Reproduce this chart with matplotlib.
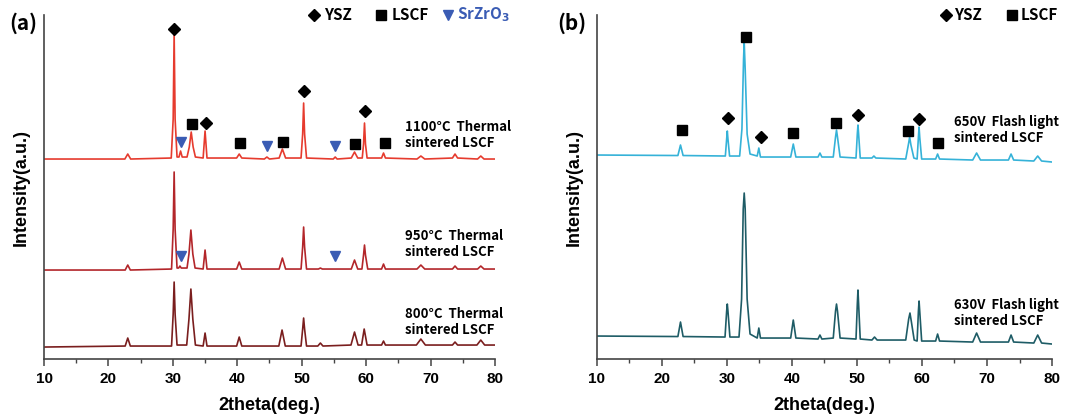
import matplotlib
matplotlib.use("Agg")
import matplotlib.pyplot as plt
from matplotlib.ticker import MultipleLocator

plt.rcParams['font.family'] = ['Noto Sans CJK KR', 'DejaVu Sans']

# ---- data: XRD patterns (2theta, intensity a.u. with offsets) ----
tt_1100 = [10.0, 22.55, 23.0, 23.45, 29.75, 30.05, 30.2, 30.35, 30.65, 30.95, 31.2, 31.45,
           32.2, 32.55, 32.85, 33.15, 33.5, 34.7, 35.0, 35.3, 39.9, 40.3, 40.7,
           44.2, 44.6, 45.0, 46.5, 47.0, 47.5, 49.9, 50.15, 50.3, 50.45, 50.75,
           54.9, 55.2, 55.5, 57.7, 58.2, 58.7, 59.4, 59.6, 59.75, 59.9, 60.15,
           62.4, 62.7, 63.0, 67.9, 68.5, 69.1, 73.4, 73.8, 74.2, 77.3, 77.8, 78.3, 80.0]
int_1100 = [200, 200, 205, 200, 201, 240, 326, 240, 202, 202, 208, 202,
            202, 212, 227, 212, 202, 201, 228, 201, 201, 205, 201,
            200, 202, 200, 201, 210, 201, 201, 225, 256, 225, 201,
            200, 202, 200, 201, 207, 201, 201, 215, 236, 215, 201,
            201, 206, 201, 200, 203, 200, 201, 205, 201, 200, 203, 200, 200]

tt_950 = [10.0, 22.6, 23.0, 23.4, 29.8, 30.05, 30.2, 30.35, 30.65, 30.9, 31.1, 31.3,
          32.2, 32.5, 32.8, 33.1, 33.45, 34.7, 35.0, 35.3, 39.9, 40.3, 40.7,
          46.5, 47.0, 47.5, 49.9, 50.15, 50.3, 50.45, 50.75, 52.6, 52.9, 53.2,
          57.7, 58.2, 58.7, 59.35, 59.6, 59.75, 59.9, 60.25, 62.4, 62.7, 63.0,
          67.9, 68.5, 69.1, 73.4, 73.8, 74.2, 77.3, 77.8, 78.3, 80.0]
int_950 = [89, 89, 94, 89, 90, 130, 187, 130, 91, 91, 93, 91,
           91, 105, 129, 105, 91, 90, 109, 90, 90, 97, 90,
           90, 101, 90, 90, 112, 132, 112, 90, 90, 91, 90,
           90, 99, 90, 90, 104, 114, 104, 90, 90, 95, 90,
           90, 94, 90, 90, 93, 90, 90, 93, 90, 90]

tt_800 = [10.0, 22.6, 23.0, 23.4, 29.8, 30.05, 30.2, 30.35, 30.65,
          32.15, 32.5, 32.8, 33.1, 33.5, 34.7, 35.0, 35.3, 39.9, 40.3, 40.7,
          46.45, 46.95, 47.45, 49.9, 50.15, 50.3, 50.45, 50.75, 52.5, 52.9, 53.3,
          57.65, 58.2, 58.75, 59.3, 59.7, 60.15, 62.4, 62.7, 63.0,
          67.8, 68.5, 69.2, 73.4, 73.8, 74.2, 77.2, 77.8, 78.4, 80.0]
int_800 = [12, 13, 21, 13, 13, 45, 77, 45, 14,
           14, 40, 70, 40, 14, 13, 26, 13, 13, 22, 13,
           13, 29, 13, 13, 30, 41, 30, 13, 13, 16, 13,
           14, 27, 14, 14, 30, 14, 14, 18, 14,
           14, 20, 14, 14, 17, 14, 14, 19, 14, 14]

tt_650v = [10.0, 22.45, 22.85, 23.25, 29.75, 29.95, 30.05, 30.15, 30.4,
           31.95, 32.3, 32.55, 32.65, 32.8, 33.1, 33.55, 34.65, 34.9, 35.15,
           39.8, 40.2, 40.6, 44.0, 44.3, 44.6, 46.35, 46.7, 46.85, 47.0, 47.4,
           49.85, 50.05, 50.15, 50.25, 50.5, 52.3, 52.6, 52.9,
           57.5, 57.95, 58.1, 58.3, 58.75, 59.25, 59.45, 59.55, 59.65, 59.95,
           62.1, 62.4, 62.7, 67.8, 68.4, 69.0, 73.3, 73.7, 74.1, 77.2, 77.8, 78.4, 80.0]
int_650v = [204, 203.5, 214, 203.5, 203, 220, 228, 220, 203,
            203, 230, 300, 317, 290, 225, 205, 203, 211, 202,
            202, 215, 202, 202, 206, 202, 202, 222, 229, 222, 202,
            201, 225, 234, 225, 201, 201, 203, 201,
            200, 216, 222, 214, 201, 200, 222, 232, 222, 200,
            200, 205, 200, 199, 206, 199, 199, 205, 199, 198, 203, 198, 197]

tt_630v = [10.0, 22.45, 22.85, 23.25, 29.7, 29.95, 30.05, 30.15, 30.45,
           31.85, 32.25, 32.5, 32.65, 32.8, 33.1, 33.55, 34.65, 34.9, 35.15,
           39.8, 40.2, 40.6, 44.0, 44.3, 44.6, 46.35, 46.7, 46.85, 47.0, 47.4,
           49.85, 50.05, 50.15, 50.25, 50.5, 52.3, 52.7, 53.1,
           57.5, 57.95, 58.15, 58.35, 58.8, 59.25, 59.45, 59.55, 59.65, 59.95,
           62.1, 62.4, 62.7, 67.8, 68.4, 69.0, 73.3, 73.7, 74.1, 77.2, 77.8, 78.4, 80.0]
int_630v = [23, 22.5, 37, 22.5, 22, 48, 55, 48, 22,
            22, 60, 150, 166, 150, 60, 25, 21, 31, 21,
            21, 39, 21, 20, 24, 20, 21, 48, 55, 48, 21,
            20, 55, 69, 55, 20, 19, 22, 19,
            19, 40, 46, 38, 19, 18, 48, 58, 48, 18,
            18, 25, 18, 17, 26, 17, 17, 24, 17, 16, 24, 16, 15]

# phase markers (2theta, height)
a_ysz_x = [30.2, 35.1, 50.3, 59.8]
a_ysz_y = [330, 236, 268, 248]
a_lscf_x = [32.9, 40.4, 47.1, 58.3, 62.9]
a_lscf_y = [235, 216, 217, 215, 216]
a_srz_x = [31.3, 44.6, 55.2, 31.3, 55.2]
a_srz_y = [217, 213, 213, 103, 103]

b_ysz_x = [30.2, 35.2, 50.2, 59.5]
b_ysz_y = [241, 222, 244, 240]
b_lscf_x = [23.1, 32.9, 40.2, 46.8, 57.9, 62.5]
b_lscf_y = [229, 322, 226, 236, 228, 216]

a_labels = ["1100°C  Thermal\nsintered LSCF", "950°C  Thermal\nsintered LSCF", "800°C  Thermal\nsintered LSCF"]
a_label_y = [224, 115, 37]
b_labels = ["650V  Flash light\nsintered LSCF", "630V  Flash light\nsintered LSCF"]
b_label_y = [229, 46]

c_1100 = "#e63b2e"
c_950 = "#b3262a"
c_800 = "#7a1e1e"
c_650 = "#35b2d8"
c_630 = "#1e5c66"
c_tri = "#3a5cb4"
ymax = 344

fig = plt.figure(figsize=(10.76, 4.17), dpi=100)
ax1 = fig.add_axes([0.0409, 0.139, 0.4191, 0.825])
ax2 = fig.add_axes([0.5548, 0.139, 0.4229, 0.825])


def style_axis(ax):
    ax.set_xlim(10, 80)
    ax.set_ylim(0, ymax)
    for s in ["top", "right"]:
        ax.spines[s].set_visible(False)
    for s in ["left", "bottom"]:
        ax.spines[s].set_color("#444444")
        ax.spines[s].set_linewidth(1.2)
    ax.set_yticks([])
    ax.xaxis.set_major_locator(MultipleLocator(10))
    ax.xaxis.set_minor_locator(MultipleLocator(5))
    ax.tick_params(axis="x", which="major", length=5, width=1.1, color="#444444", pad=4)
    ax.tick_params(axis="x", which="minor", length=3, width=1.0, color="#444444")
    for lab in ax.get_xticklabels():
        lab.set_fontweight("bold")
        lab.set_fontsize(11)
        lab.set_family("Liberation Sans")
    ax.set_xlabel("2theta(deg.)", fontsize=13, fontweight="bold", labelpad=8, family="Liberation Sans")
    ax.set_ylabel("Intensity(a.u.)", fontsize=13, fontweight="bold", labelpad=10, family="Liberation Sans")


# panel (a)
ax1.plot(tt_1100, int_1100, color=c_1100, lw=1.2)
ax1.plot(tt_950, int_950, color=c_950, lw=1.2)
ax1.plot(tt_800, int_800, color=c_800, lw=1.2)
ax1.plot(a_ysz_x, a_ysz_y, "D", color="black", ms=6.5, ls="none")
ax1.plot(a_lscf_x, a_lscf_y, "s", color="black", ms=7.5, ls="none")
ax1.plot(a_srz_x, a_srz_y, "v", color=c_tri, ms=7.5, ls="none")
for txt, yy in zip(a_labels, a_label_y):
    ax1.text(66.0, yy, txt, fontsize=9.5, fontweight="bold", va="center", ha="left", linespacing=1.15)
style_axis(ax1)

# legend (a)
ax1.plot([51.9], [ymax], "D", color="black", ms=6.5, clip_on=False)
ax1.text(53.4, ymax, "YSZ", fontsize=11, fontweight="bold", va="center")
ax1.plot([62.3], [ymax], "s", color="black", ms=7.5, clip_on=False)
ax1.text(63.9, ymax, "LSCF", fontsize=11, fontweight="bold", va="center")
ax1.plot([72.7], [ymax], "v", color=c_tri, ms=7.5, clip_on=False)
ax1.text(74.1, ymax, r"SrZrO$_\mathbf{3}$", fontsize=11, fontweight="bold", va="center", color=c_tri)

# panel (b)
ax2.plot(tt_650v, int_650v, color=c_650, lw=1.2)
ax2.plot(tt_630v, int_630v, color=c_630, lw=1.2)
ax2.plot(b_ysz_x, b_ysz_y, "D", color="black", ms=6.5, ls="none")
ax2.plot(b_lscf_x, b_lscf_y, "s", color="black", ms=7.5, ls="none")
for txt, yy in zip(b_labels, b_label_y):
    ax2.text(65.0, yy, txt, fontsize=9.5, fontweight="bold", va="center", ha="left", linespacing=1.15)
style_axis(ax2)

# legend (b)
ax2.plot([63.7], [ymax], "D", color="black", ms=6.5, clip_on=False)
ax2.text(64.9, ymax, "YSZ", fontsize=11, fontweight="bold", va="center")
ax2.plot([73.8], [ymax], "s", color="black", ms=7.5, clip_on=False)
ax2.text(75.1, ymax, "LSCF", fontsize=11, fontweight="bold", va="center")

fig.text(0.009, 0.945, "(a)", fontsize=15, fontweight="bold", va="center")
fig.text(0.518, 0.945, "(b)", fontsize=15, fontweight="bold", va="center")

fig.savefig("out.png", dpi=100)
